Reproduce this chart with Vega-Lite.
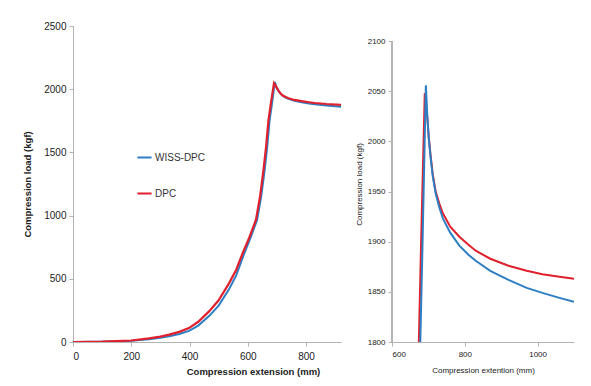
{
  "$schema": "https://vega.github.io/schema/vega-lite/v6.json",
  "background": "white",
  "padding": {"left": 22, "top": 21, "right": 5, "bottom": 5},
  "spacing": 14,
  "config": {
    "view": {"stroke": null},
    "font": "Liberation Sans",
    "axis": {"grid": false, "domainColor": "#b3b3b3", "tickColor": "#b3b3b3", "labelColor": "#222", "titleColor": "#222", "labelFont": "Liberation Sans", "titleFont": "Liberation Sans", "format": "d"}
  },
  "datasets": {
    "curves": [
      {"x": 0, "load": 0, "series": "WISS-DPC"},
      {"x": 100, "load": 2, "series": "WISS-DPC"},
      {"x": 200, "load": 9, "series": "WISS-DPC"},
      {"x": 261, "load": 22, "series": "WISS-DPC"},
      {"x": 300, "load": 33, "series": "WISS-DPC"},
      {"x": 330, "load": 46, "series": "WISS-DPC"},
      {"x": 365, "load": 64, "series": "WISS-DPC"},
      {"x": 398, "load": 88, "series": "WISS-DPC"},
      {"x": 430, "load": 130, "series": "WISS-DPC"},
      {"x": 467, "load": 205, "series": "WISS-DPC"},
      {"x": 500, "load": 288, "series": "WISS-DPC"},
      {"x": 536, "load": 420, "series": "WISS-DPC"},
      {"x": 560, "load": 525, "series": "WISS-DPC"},
      {"x": 586, "load": 690, "series": "WISS-DPC"},
      {"x": 609, "load": 822, "series": "WISS-DPC"},
      {"x": 632, "load": 966, "series": "WISS-DPC"},
      {"x": 646, "load": 1150, "series": "WISS-DPC"},
      {"x": 658, "load": 1361, "series": "WISS-DPC"},
      {"x": 667, "load": 1550, "series": "WISS-DPC"},
      {"x": 675, "load": 1756, "series": "WISS-DPC"},
      {"x": 684, "load": 1900, "series": "WISS-DPC"},
      {"x": 693, "load": 2056, "series": "WISS-DPC"},
      {"x": 697, "load": 2025, "series": "WISS-DPC"},
      {"x": 701, "load": 2003, "series": "WISS-DPC"},
      {"x": 706, "load": 1984, "series": "WISS-DPC"},
      {"x": 712, "load": 1965, "series": "WISS-DPC"},
      {"x": 720, "load": 1948, "series": "WISS-DPC"},
      {"x": 730, "load": 1934, "series": "WISS-DPC"},
      {"x": 740, "load": 1923, "series": "WISS-DPC"},
      {"x": 760, "load": 1909, "series": "WISS-DPC"},
      {"x": 785, "load": 1896, "series": "WISS-DPC"},
      {"x": 810, "load": 1887, "series": "WISS-DPC"},
      {"x": 830, "load": 1881, "series": "WISS-DPC"},
      {"x": 870, "load": 1871, "series": "WISS-DPC"},
      {"x": 920, "load": 1862, "series": "WISS-DPC"},
      {"x": 970, "load": 1854, "series": "WISS-DPC"},
      {"x": 1013, "load": 1849, "series": "WISS-DPC"},
      {"x": 1060, "load": 1844, "series": "WISS-DPC"},
      {"x": 1100, "load": 1840, "series": "WISS-DPC"},
      {"x": 0, "load": 0, "series": "DPC"},
      {"x": 100, "load": 3, "series": "DPC"},
      {"x": 200, "load": 12, "series": "DPC"},
      {"x": 261, "load": 28, "series": "DPC"},
      {"x": 300, "load": 42, "series": "DPC"},
      {"x": 330, "load": 58, "series": "DPC"},
      {"x": 365, "load": 80, "series": "DPC"},
      {"x": 398, "load": 110, "series": "DPC"},
      {"x": 430, "load": 160, "series": "DPC"},
      {"x": 467, "load": 242, "series": "DPC"},
      {"x": 500, "load": 330, "series": "DPC"},
      {"x": 536, "load": 466, "series": "DPC"},
      {"x": 560, "load": 570, "series": "DPC"},
      {"x": 582, "load": 700, "series": "DPC"},
      {"x": 605, "load": 825, "series": "DPC"},
      {"x": 628, "load": 966, "series": "DPC"},
      {"x": 642, "load": 1150, "series": "DPC"},
      {"x": 654, "load": 1361, "series": "DPC"},
      {"x": 663, "load": 1550, "series": "DPC"},
      {"x": 671, "load": 1756, "series": "DPC"},
      {"x": 680, "load": 1900, "series": "DPC"},
      {"x": 690, "load": 2048, "series": "DPC"},
      {"x": 697, "load": 2024, "series": "DPC"},
      {"x": 701, "load": 2004, "series": "DPC"},
      {"x": 706, "load": 1986, "series": "DPC"},
      {"x": 712, "load": 1967, "series": "DPC"},
      {"x": 720, "load": 1950, "series": "DPC"},
      {"x": 730, "load": 1938, "series": "DPC"},
      {"x": 740, "load": 1928, "series": "DPC"},
      {"x": 760, "load": 1915, "series": "DPC"},
      {"x": 785, "load": 1905, "series": "DPC"},
      {"x": 810, "load": 1897, "series": "DPC"},
      {"x": 830, "load": 1891, "series": "DPC"},
      {"x": 870, "load": 1883, "series": "DPC"},
      {"x": 920, "load": 1876, "series": "DPC"},
      {"x": 970, "load": 1871, "series": "DPC"},
      {"x": 1013, "load": 1867.5, "series": "DPC"},
      {"x": 1060, "load": 1865, "series": "DPC"},
      {"x": 1100, "load": 1863, "series": "DPC"}
    ]
  },
  "hconcat": [
    {
      "width": 268,
      "height": 316,
      "data": {"name": "curves"},
      "encoding": {
        "x": {"field": "x", "type": "quantitative", "scale": {"domain": [0, 920], "nice": false},
          "axis": {"values": [0, 200, 400, 600, 800], "title": "Compression extension (mm)", "titleFontSize": 9.5, "titleFontWeight": "bold", "labelFontSize": 10, "titleX": 180, "titleAnchor": "middle", "titlePadding": 5, "tickSize": 4, "labelPadding": 5}},
        "y": {"field": "load", "type": "quantitative", "scale": {"domain": [0, 2500], "nice": false},
          "axis": {"values": [0, 500, 1000, 1500, 2000, 2500], "title": "Compression load (kgf)", "titleFontSize": 9.5, "titleFontWeight": "bold", "labelFontSize": 10, "tickSize": 4, "labelPadding": 3, "titlePadding": 11}},
        "color": {"field": "series", "type": "nominal",
          "scale": {"domain": ["WISS-DPC", "DPC"], "range": ["#2e7ec4", "#e0202c"]},
          "legend": {"title": null, "orient": "none", "legendX": 63, "legendY": 123, "symbolType": "stroke", "symbolSize": 200, "symbolStrokeWidth": 2, "labelFontSize": 10, "labelColor": "#333", "rowPadding": 22, "labelOffset": 2, "padding": 0}}
      },
      "layer": [
        {"transform": [{"filter": "datum.series == 'WISS-DPC'"}], "mark": {"type": "line", "strokeWidth": 2, "clip": true}},
        {"transform": [{"filter": "datum.series == 'DPC'"}], "mark": {"type": "line", "strokeWidth": 2.2, "clip": true}}
      ]
    },
    {
      "width": 182,
      "height": 316,
      "data": {"name": "curves"},
      "layer": [
        {
          "mark": {"type": "rule", "color": "#b3b3b3", "strokeWidth": 1},
          "encoding": {"x": {"datum": 600, "type": "quantitative"}, "y": {"datum": 1800, "type": "quantitative"}, "y2": {"datum": 2100}}
        },
        {
          "transform": [{"filter": "datum.series == 'DPC'"}],
          "mark": {"type": "line", "strokeWidth": 2, "clip": true},
          "encoding": {
            "x": {"field": "x", "type": "quantitative"},
            "y": {"field": "load", "type": "quantitative"},
            "color": {"field": "series", "type": "nominal", "scale": {"domain": ["WISS-DPC", "DPC"], "range": ["#2e7ec4", "#e0202c"]}, "legend": null}
          }
        },
        {
          "transform": [{"filter": "datum.series == 'WISS-DPC'"}],
          "mark": {"type": "line", "strokeWidth": 2, "clip": true},
          "encoding": {
            "x": {"field": "x", "type": "quantitative"},
            "y": {"field": "load", "type": "quantitative"},
            "color": {"field": "series", "type": "nominal", "scale": {"domain": ["WISS-DPC", "DPC"], "range": ["#2e7ec4", "#e0202c"]}, "legend": null}
          }
        }
      ],
      "encoding": {
        "x": {"field": "x", "type": "quantitative", "scale": {"domain": [600, 1100], "nice": false},
          "axis": {"values": [600, 800, 1000], "title": "Compression extention (mm)", "titleFontSize": 8, "titleFontWeight": "normal", "labelFontSize": 8, "titlePadding": 8, "tickSize": 4, "labelPadding": 4}},
        "y": {"field": "load", "type": "quantitative", "scale": {"domain": [1800, 2115], "nice": false},
          "axis": {"values": [1800, 1850, 1900, 1950, 2000, 2050, 2100], "domain": false, "title": "Compression load (kgf)", "titleFontSize": 8, "titleFontWeight": "normal", "labelFontSize": 8, "tickSize": 4, "labelPadding": 3, "titlePadding": 4}}
      }
    }
  ],
  "resolve": {"scale": {"x": "independent", "y": "independent"}}
}
